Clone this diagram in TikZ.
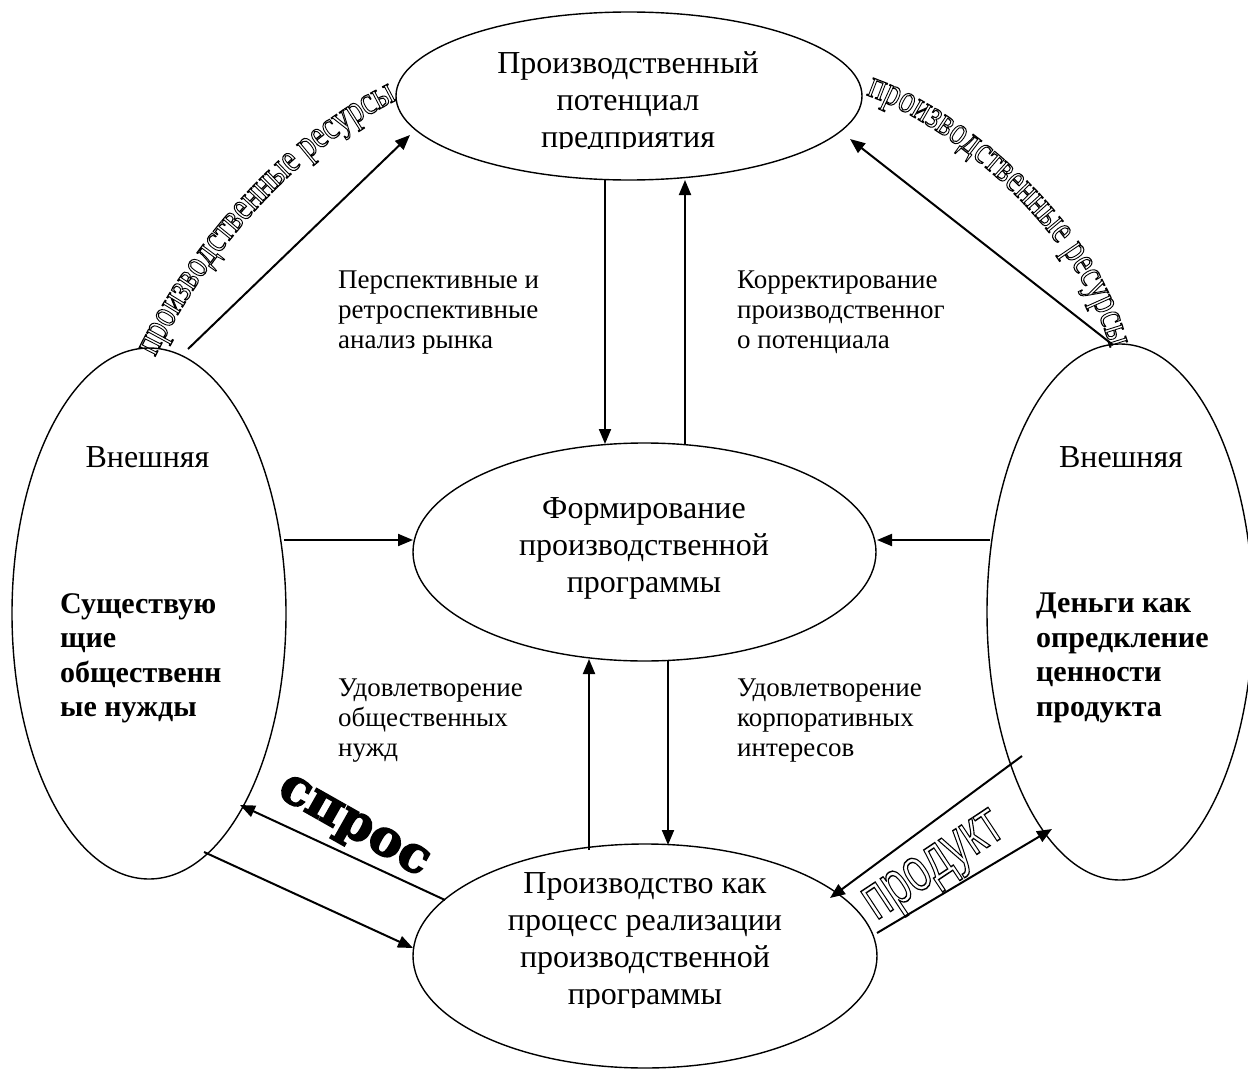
\documentclass[tikz,border=0pt]{standalone}
\usepackage{fontspec}
\setmainfont{Liberation Serif}
\newfontfamily\sansf{Liberation Sans}
\newfontfamily\heavyf{DejaVu Serif}
\usetikzlibrary{shapes.geometric,arrows.meta,decorations.text}
% outlined text via PDF text rendering mode (stroke only)
\newcommand\outl[1]{\special{pdf:literal direct 1 Tr 1.1 w}#1\special{pdf:literal direct 0 Tr}}
% heavier text via fill+stroke
\newcommand\heavy[1]{\special{pdf:literal direct 2 Tr 1.6 w}#1\special{pdf:literal direct 0 Tr}}
\newcommand\olchar[1]{{\fontsize{40}{40}\selectfont\scalebox{0.78}[1]{\outl{#1}}}}
\tikzset{
 ell/.style={draw, ellipse, line width=1.4pt, inner sep=0pt},
 arr/.style={line width=2pt, -{Triangle[length=15pt,width=12pt]}},
 lbl/.style={font=\fontsize{27}{30}\selectfont, align=left, anchor=north west, inner sep=0pt},
 big/.style={font=\fontsize{32}{37}\selectfont, align=center, inner sep=0pt},
 bld/.style={font=\bfseries\fontsize{30}{34.5}\selectfont, align=left, anchor=north west, inner sep=0pt},
 arctext/.style={decorate, decoration={text effects along path, text={производственные~ресурсы},
   text effects/.cd, text along path, fit text to path, character command=\olchar}}
}
\begin{document}
\begin{tikzpicture}[x=1pt,y=-1pt]
\fill[white] (0,0) rectangle (1248,1073);
\useasboundingbox (0,0) rectangle (1248,1073);
% ellipses
\node[ell, minimum width=466pt, minimum height=168pt] (top) at (629,96) {};
\node[ell, minimum width=463pt, minimum height=218pt] (mid) at (644.5,552) {};
\node[ell, minimum width=464pt, minimum height=224pt] (bot) at (645,956) {};
\node[ell, minimum width=274pt, minimum height=531pt] (left) at (149,613.5) {};
\node[ell, minimum width=266pt, minimum height=536pt] (right) at (1120,612) {};
% ellipse texts
\begin{scope}
\clip (0,0) rectangle (1248,148);
\node[big] (topt) at (628,102.5) {Производственный\\потенциал\\предприятия};
\end{scope}
\node[big] (midt) at (644,548.5) {Формирование\\производственной\\программы};
\begin{scope}
\clip (0,800) rectangle (1248,1007);
\node[big] (bott) at (645,942) {Производство как\\процесс реализации\\производственной\\программы};
\end{scope}
\node[big] (lext) at (147.5,457.5) {Внешняя};
\node[big] (rext) at (1121,457.5) {Внешняя};
\node[bld] (lneed) at (60,593) {Существую\\щие\\общественн\\ые нужды};
\node[bld] (rmoney) at (1036,593) {Деньги как\\опредкление\\ценности\\продукта};
% labels
\node[lbl] (l1) at (338,271) {Перспективные и\\ретроспективные\\анализ рынка};
\node[lbl] (l2) at (737,271) {Корректирование\\производственног\\о потенциала};
\node[lbl] (l3) at (338,679) {Удовлетворение\\общественных\\нужд};
\node[lbl] (l4) at (737,679) {Удовлетворение\\корпоративных\\интересов};
% arrow coordinates
\coordinate (lt1) at (188,349); \coordinate (lt2) at (410,135);
\coordinate (rt1) at (1113,345); \coordinate (rt2) at (850,139);
\coordinate (tc1) at (605,180); \coordinate (tc2) at (605,444);
\coordinate (ct1) at (685,445); \coordinate (ct2) at (685,180);
\coordinate (lc1) at (284,540); \coordinate (lc2) at (413,540);
\coordinate (rc1) at (990,540); \coordinate (rc2) at (877,540);
\coordinate (bc1) at (589,850); \coordinate (bc2) at (589,659);
\coordinate (cb1) at (668,660); \coordinate (cb2) at (668,845);
\coordinate (bl1) at (445,900); \coordinate (bl2) at (240,805);
\coordinate (lb1) at (204,852); \coordinate (lb2) at (413,948);
\coordinate (rb1) at (1022,756); \coordinate (rb2) at (830,898);
\coordinate (br1) at (877,933); \coordinate (br2) at (1052,829);
\draw[arr] (lt1) -- (lt2);
\draw[arr] (rt1) -- (rt2);
\draw[arr] (tc1) -- (tc2);
\draw[arr] (ct1) -- (ct2);
\draw[arr] (lc1) -- (lc2);
\draw[arr] (rc1) -- (rc2);
\draw[arr] (bc1) -- (bc2);
\draw[arr] (cb1) -- (cb2);
\draw[arr] (bl1) -- (bl2);
\draw[arr] (lb1) -- (lb2);
\draw[arr] (rb1) -- (rb2);
\draw[arr] (br1) -- (br2);
% word art
\coordinate (wl1) at (155,357); \coordinate (wl2) at (397,100);
\coordinate (wr1) at (866,95); \coordinate (wr2) at (1110,348);
\path[arctext] (wl1) .. controls (205,255) and (295,150) .. (wl2);
\path[arctext] (wr1) .. controls (940,120) and (1075,220) .. (wr2);
\node[rotate=-29.5, font=\heavyf\bfseries\fontsize{50}{50}\selectfont, inner sep=0pt] (spros) at (352,829) {\heavy{спрос}};
\node[rotate=33.5, inner sep=0pt] (prod) at (936,869) {\scalebox{0.9}[1.3]{\outl{\sansf\fontsize{48}{48}\selectfont продукт}}};
\end{tikzpicture}
\end{document}
